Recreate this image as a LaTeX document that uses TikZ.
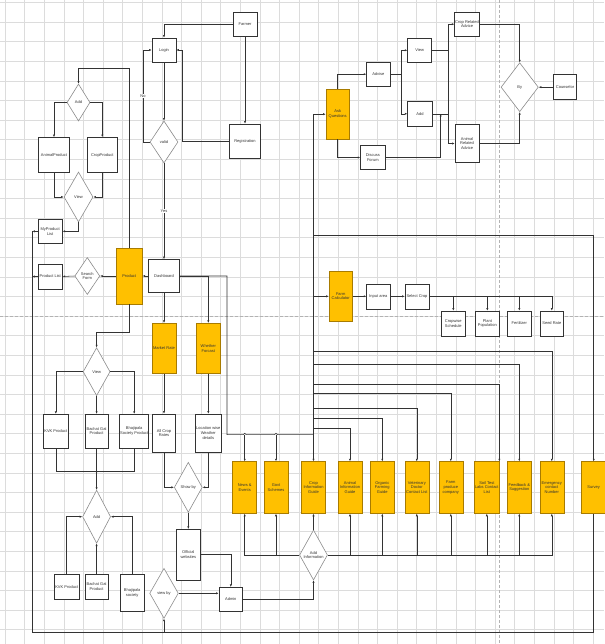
\documentclass[tikz,border=0pt]{standalone}
\usepackage{fontspec}
\setmainfont{Liberation Sans}
\usetikzlibrary{arrows.meta,calc,shapes.geometric}
\definecolor{ink}{HTML}{333333}
\definecolor{amber}{HTML}{FFC000}
\definecolor{amberdk}{HTML}{A87B00}
\definecolor{gridc}{HTML}{DCDCDC}
\definecolor{rim}{HTML}{8C8C8C}

\begin{document}
\begin{tikzpicture}[x=1pt,y=-1pt,>={Latex[length=2.6pt,width=2.2pt]},
  font=\fontsize{4}{4.6}\selectfont,text=ink,
  box/.style={rectangle,draw=ink,fill=white,line width=0.6pt,minimum width=24pt,minimum height=24pt,inner sep=0.5pt,align=center},
  obox/.style={box,fill=amber,draw=amberdk,minimum height=50pt},
  dec/.style={diamond,draw=rim,fill=white,line width=0.6pt,inner sep=0pt,align=center},
  link/.style={draw=ink,line width=0.55pt},
  tag/.style={fill=white,inner sep=0.6pt}]
  \fill[white] (0,0) rectangle (604,644);
  \useasboundingbox (0,0) rectangle (604,644);
  % grid and page breaks
  \foreach \i in {0,...,30} \draw[gridc,line width=0.4pt] (5+19.6*\i,0) -- (5+19.6*\i,644);
  \foreach \j in {0,...,32} \draw[gridc,line width=0.4pt] (0,2.4+19.6*\j) -- (604,2.4+19.6*\j);
  \draw[black!30,dash pattern=on 3pt off 2pt,line width=0.4pt] (499,0) -- (499,644) (0,316) -- (604,316);

  % login
  \node[box] (farmer) at (245,24) {Farmer};
  \node[box] (login) at (164,50) {Login};
  \node[dec,minimum width=28pt,minimum height=42pt] (valid) at (164,142) {valid};
  \node[box,minimum width=31pt,minimum height=34pt] (reg) at (245,141) {Registration};
  \node[box,minimum width=31pt,minimum height=33pt] (dash) at (164,276) {Dashboard};

  % products
  \node[dec,minimum width=23pt,minimum height=37pt] (addp) at (78.5,102.5) {Add};
  \node[box,minimum width=31pt,minimum height=35pt] (animal) at (54,155) {AnimalProduct};
  \node[box,minimum width=30pt,minimum height=35pt] (cropp) at (102.3,155) {CropProduct};
  \node[dec,minimum width=29pt,minimum height=50pt] (viewp) at (78.5,197) {View};
  \node[box] (mylist) at (50.2,231.3) {MyProduct\\List};
  \node[obox,minimum width=26pt,minimum height=56pt] (prod) at (129.2,276) {Product};
  \node[dec,minimum width=25pt,minimum height=37pt] (search) at (87.3,276) {Search\\Form};
  \node[box,minimum height=25pt] (plist) at (50.3,276.5) {Product List};
  \node[dec,minimum width=27pt,minimum height=48pt] (viewk) at (96.6,371.7) {View};
  \node[box,minimum width=25pt,minimum height=34pt] (kvka) at (55.8,431.2) {KVK Product};
  \node[box,minimum width=23.3pt,minimum height=34pt] (gata) at (96.6,431.2) {Bachat Gat\\Product};
  \node[box,minimum width=28.3pt,minimum height=34pt] (bhaja) at (134.2,431.2) {Bhajipala\\Society Product};
  \coordinate (merge) at (96.6,471.7);
  \node[dec,minimum width=28pt,minimum height=53pt] (addk) at (96.6,516.7) {Add};
  \node[box,minimum width=24.7pt,minimum height=24.7pt] (kvkb) at (66.7,586.7) {KVK Product};
  \node[box,minimum width=23.3pt,minimum height=24.7pt] (gatb) at (96.6,586.7) {Bachat Gat\\Product};
  \node[box,minimum width=24.3pt,minimum height=37.7pt] (bhajb) at (132.2,592.8) {Bhajipala\\society};

  % rates and weather
  \node[obox] (market) at (164,348.3) {Market Rate};
  \node[obox,minimum width=23.5pt] (weather) at (208.3,348.3) {Whether\\Forcast};
  \node[box,minimum width=23.3pt,minimum height=38pt] (rates) at (164,433) {All Crop\\Rates};
  \node[box,minimum width=23.3pt,minimum height=38pt] (locw) at (208.3,433) {Location wise\\Weather\\details};
  \node[dec,minimum width=28pt,minimum height=50pt] (showby) at (188.3,487.3) {Show by};
  \node[box,minimum width=23.3pt,minimum height=50.7pt] (official) at (188.3,554.7) {Official\\websites};
  \node[dec,minimum width=28.7pt,minimum height=50pt] (viewby) at (164,593.3) {view by};
  \node[box,minimum width=23.7pt,minimum height=24.4pt] (admin) at (230.8,599.5) {Admin};
  \node[dec,minimum width=28pt,minimum height=50pt] (addinfo) at (313.5,555) {Add\\Information};

  % services row
  \foreach \nm/\xx/\txt in {news/244.7/{News \&\\Events},govt/276/{Govt\\Schemes},
      cropinfo/313.5/{Crop\\Information\\Guide},animinfo/350/{Animal\\Information\\Guide},
      organic/382.3/{Organic\\Farming\\Guide},vet/416.8/{Veterinary\\Doctor\\Contact List},
      produce/450.8/{Farm\\produce\\company},soil/486.8/{Soil Test\\Labs Contact\\List},
      feedback/519.3/{Feedback \&\\Suggestion},emergency/551.8/{Emergency\\contact\\Number},
      survey/593.7/{Survey}}
    \node[obox,minimum height=51.7pt] (\nm) at (\xx,487.5) {\txt};

  % questions
  \node[obox,minimum width=23.3pt] (ask) at (337.7,114.2) {Ask\\Questions};
  \node[box,minimum width=23.3pt] (advise) at (378.3,74.2) {Advise};
  \node[box,minimum width=24.3pt,minimum height=23.7pt] (forum) at (372.8,157.5) {Discuss\\Forum};
  \node[box] (viewq) at (419.7,50.3) {View};
  \node[box,minimum width=24.7pt,minimum height=25.7pt] (addq) at (420,113.8) {Add};
  \node[box,minimum height=23.7pt] (cropadv) at (467,24.2) {Crop Related\\Advice};
  \node[box,minimum height=38.4pt] (animadv) at (467,143.5) {Animal\\Related\\Advice};
  \node[dec,minimum width=37.3pt,minimum height=49pt] (by) at (519.7,87.2) {By};
  \node[box,minimum width=23.3pt,minimum height=25pt] (counsel) at (565,87.2) {Counselor};

  % calculator
  \node[obox,minimum width=23.3pt,minimum height=50.7pt] (calc) at (340.7,296.3) {Farm\\Calculator};
  \node[box,minimum width=23.3pt,minimum height=25pt] (area) at (378.3,296.3) {Input area};
  \node[box,minimum height=25pt] (selcrop) at (417,296.3) {Select Crop};
  \foreach \nm/\xx/\txt in {sched/453.3/{Cropwise\\Schedule},plant/487.3/{Plant\\Population},
      fert/519.3/{Fertilizer},seed/551.8/{Seed Rate}}
    \node[box,minimum width=23.5pt,minimum height=25pt] (\nm) at (\xx,323.5) {\txt};

  \coordinate (hub) at (313.5,434.7);
  \coordinate (rail) at (313.5,235.7);
  \coordinate (sink) at (32.3,632);

  % login flow
  \draw[link,->] (farmer.west) -| (login.north);
  \draw[link,->] (farmer.south) -- (reg.north);
  \draw[link,->] (login.south) -- (valid.north);
  \draw[link,->] (valid.west) -- ++(-6.7,0) |- node[tag,pos=0.25] (no) {No} (login.west);
  \draw[link,->] (reg.west) -- ++(-47,0) |- (login.east);
  \draw[link,->] (valid.south) -- node[tag] (yes) {Yes} (dash.north);

  % product flow
  \draw[link,->] (dash.west) -- (prod.east);
  \draw[link,->] (prod.north) -- ++(0,-179) -| (addp.north);
  \draw[link,->] (addp.west) -| (animal.north);
  \draw[link,->] (addp.east) -| (cropp.north);
  \draw[link,->] (animal.south) |- (viewp.west);
  \draw[link,->] (cropp.south) |- (viewp.east);
  \draw[link,->] (viewp.south) |- (mylist.east);
  \draw[link,->] (prod.west) -- (search.east);
  \draw[link,->] (search.west) -- (plist.east);
  \draw[link,->] (prod.south) -- ++(0,28.3) -| (viewk.north);
  \draw[link,->] (viewk.west) -| (kvka.north);
  \draw[link,->] (viewk.south) -- (gata.north);
  \draw[link,->] (viewk.east) -| (bhaja.north);
  \draw[link] (kvka.south) |- (merge) -| (bhaja.south);
  \draw[link] (gata.south) -- (merge);
  \draw[link,->] (merge) -- (addk.north);
  \fill[ink] (merge) circle (1pt);
  \draw[link,->] (kvkb.north) |- (addk.west);
  \draw[link,->] (gatb.north) -- (addk.south);
  \draw[link,->] (bhajb.north) |- (addk.east);

  % rates, weather, admin
  \draw[link,->] (dash.south) -- (market.north);
  \draw[link,->] (dash.east) -| (weather.north);
  \draw[link,->] (market.south) -- (rates.north);
  \draw[link,->] (weather.south) -- (locw.north);
  \draw[link,->] (rates.south) |- (showby.west);
  \draw[link,->] (locw.south) |- (showby.east);
  \draw[link,->] (showby.south) -- (official.north);
  \draw[link,->] (official.east) -| (admin.north);
  \draw[link,->] (viewby.east) -- (viewby.east -| admin.west);
  \draw[link,->] (admin.east) -| (addinfo.south);
  \draw[link,->] (addinfo.north) -- (cropinfo.south);
  \draw[link,->] (addinfo.west) -| (news.south);
  \draw[link,->] (addinfo.east) -| (emergency.south);
  \draw[link,->] (govt.south |- addinfo.west) -- (govt.south);
  \foreach \nm in {animinfo,organic,vet,produce,soil,feedback}
    \draw[link,->] (\nm.south |- addinfo.east) -- (\nm.south);

  % dashboard trunk
  \draw[link] (dash.east) -- ++(47.2,0) |- ($(news.north |- hub)+(-1.5,0)$)
    arc[start angle=180,end angle=360,radius=1.5] -- ($(govt.north |- hub)+(-1.5,0)$)
    arc[start angle=180,end angle=360,radius=1.5] -- (hub);
  \draw[link,->] (news.north |- hub) -- (news.north);
  \draw[link,->] (govt.north |- hub) -- (govt.north);
  \draw[link,->] (cropinfo.north |- ask.west) -- (ask.west);
  \draw[link,->] (cropinfo.north |- ask.west) -- (cropinfo.north);
  \draw[link,->] (rail) -| (survey.north);
  \draw[link,->] (cropinfo.north |- calc.west) -- (calc.west);
  \foreach \nm/\an/\yy in {emergency/north/351.7,feedback/north/364.3,soil/north east/384.3,
      produce/north/393.3,vet/north/408.3,organic/north/418.3,animinfo/north/428.3}
    \draw[link,->] (cropinfo.north |- 0,\yy) -| (\nm.\an);

  % questions flow
  \draw[link,->] (ask.north) |- (advise.west);
  \draw[link,->] (ask.south) |- (forum.west);
  \draw[link,->] (forum.east) -| ([xshift=8pt]addq.east);
  \draw[link,->] (advise.east) -- ++(11,0) |- (viewq.west);
  \draw[link,->] (advise.east) -- ++(11,0) |- (addq.west);
  \draw[link,->] (viewq.east) -- ++(16,0) |- (cropadv.west);
  \draw[link,->] (viewq.east) -- ++(16,0) |- (animadv.west);
  \draw[link] (addq.east) -- ++(15.4,0);
  \draw[link,->] (cropadv.east) -| (by.north);
  \draw[link,->] (animadv.east) -| (by.south);
  \draw[link,->] (counsel.west) -- (by.east);

  % calculator flow
  \draw[link,->] (calc.east) -- (area.west);
  \draw[link,->] (area.east) -- (selcrop.west);
  \foreach \nm in {sched,plant,fert,seed}
    \draw[link,->] (selcrop.east) -| (\nm.north);

  % bottom loop
  \draw[link,->] (mylist.west) -- (mylist.west -| sink);
  \draw[link,->] (plist.west) -- (plist.west -| sink);
  \draw[link] (mylist.west -| sink) -- (sink) -| (survey.south);
  \draw[link,->] (viewby.south |- sink) -- (viewby.south);
\end{tikzpicture}
\end{document}
